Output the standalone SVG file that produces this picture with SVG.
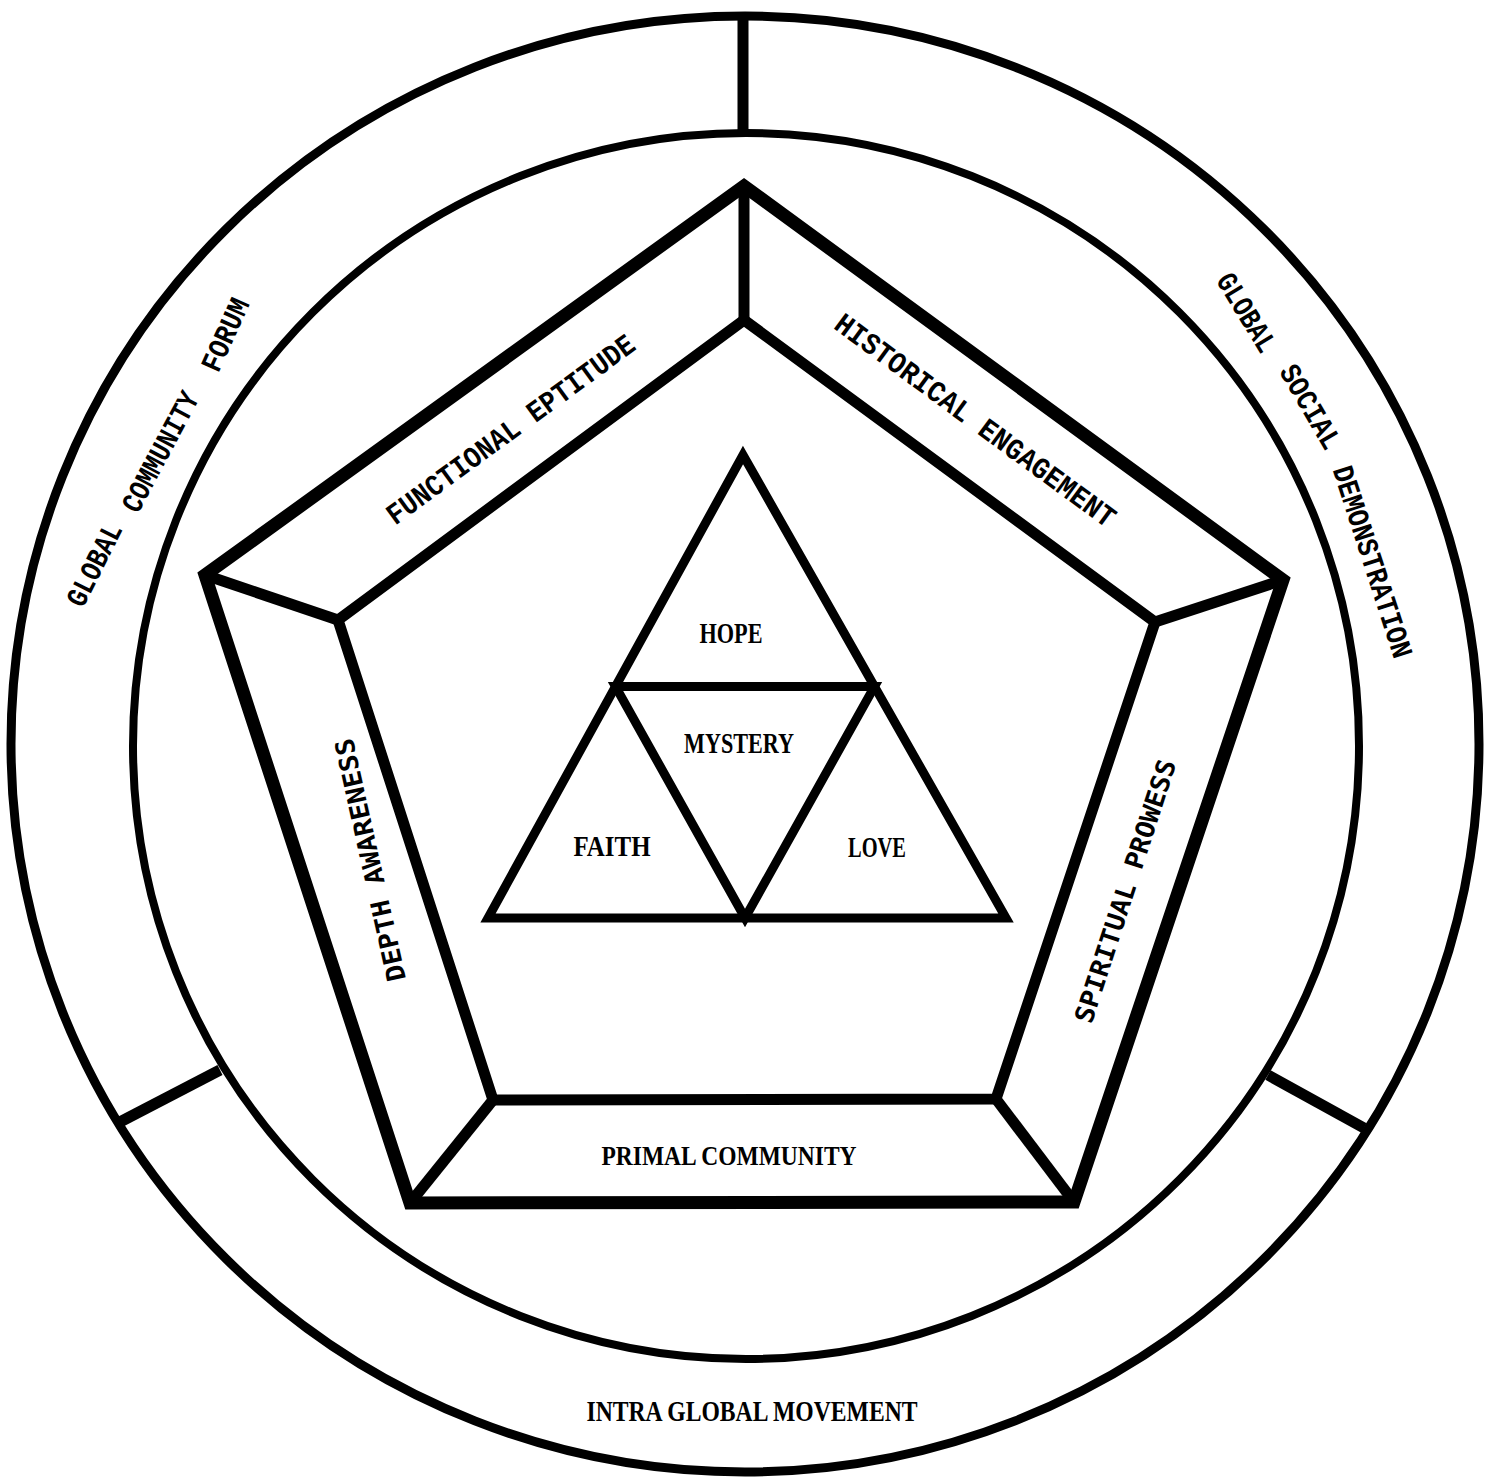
<svg xmlns="http://www.w3.org/2000/svg" width="1496" height="1478" viewBox="0 0 1496 1478">
<style>
  .ln{fill:none;stroke:#000;stroke-linejoin:miter;stroke-linecap:butt}
  .ring{stroke-width:9}
  .ringIn{stroke-width:8}
  .div{stroke-width:11}
  .pentOut{stroke-width:13}
  .pentIn{stroke-width:11}
  .spoke{stroke-width:11}
  .tri{stroke-width:9}
  .tw{font-family:"Liberation Mono","Courier New",monospace;font-weight:bold;font-size:30px;fill:#000}
  .gs{font-family:"DejaVu Sans Mono","Liberation Mono",monospace;font-weight:bold;font-size:26px;fill:#000}
  .sf{font-family:"Liberation Serif","Times New Roman",serif;font-weight:bold;font-size:30px;fill:#000}
</style>
<rect x="0" y="0" width="1496" height="1478" fill="#fff"/>

<g id="connectors">
  <line class="ln div" x1="743" y1="16" x2="743" y2="134"/>
  <line class="ln div" x1="118" y1="1123" x2="220" y2="1070"/>
  <line class="ln div" x1="1268" y1="1075" x2="1364" y2="1128"/>
  <line class="ln spoke" x1="744" y1="186" x2="744" y2="320"/>
  <line class="ln spoke" x1="205" y1="575" x2="338" y2="620"/>
  <line class="ln spoke" x1="1283" y1="580" x2="1155" y2="622"/>
  <line class="ln spoke" x1="410" y1="1203" x2="493" y2="1100"/>
  <line class="ln spoke" x1="1074" y1="1202" x2="996" y2="1099"/>
</g>

<g id="outer-ring">
  <ellipse class="ln ring" cx="745" cy="744" rx="734" ry="728"/>
  <circle class="ln ringIn" cx="746" cy="746" r="613"/>
</g>

<g id="global-community-forum">
  <text class="tw" transform="translate(95,565) rotate(-63.4)" x="0" y="9" text-anchor="middle" textLength="89" lengthAdjust="spacingAndGlyphs">GLOBAL</text>
  <text class="tw" transform="translate(161,452) rotate(-62)" x="0" y="9" text-anchor="middle" textLength="132" lengthAdjust="spacingAndGlyphs">COMMUNITY</text>
  <text class="tw" transform="translate(226,335) rotate(-65.7)" x="0" y="9" text-anchor="middle" textLength="77" lengthAdjust="spacingAndGlyphs">FORUM</text>
</g>

<g id="global-social-demonstration">
  <text class="tw" transform="translate(1246,313) rotate(58.5)" x="0" y="9" text-anchor="middle" textLength="87" lengthAdjust="spacingAndGlyphs">GLOBAL</text>
  <text class="tw" transform="translate(1310,407) rotate(59.7)" x="0" y="9" text-anchor="middle" textLength="93" lengthAdjust="spacingAndGlyphs">SOCIAL</text>
  <text class="tw" transform="translate(1372,562) rotate(72)" x="0" y="9" text-anchor="middle" textLength="200" lengthAdjust="spacingAndGlyphs">DEMONSTRATION</text>
</g>

<g id="intra-global-movement">
  <text class="sf" x="752" y="1421" text-anchor="middle" textLength="331" lengthAdjust="spacingAndGlyphs">INTRA GLOBAL MOVEMENT</text>
</g>

<g id="pentagon">
  <polygon class="ln pentOut" points="744,186 1283,580 1074,1202 410,1203 205,575"/>
  <polygon class="ln pentIn" points="744,320 1155,622 996,1099 493,1100 338,620"/>
</g>

<g id="functional-eptitude">
  <text class="tw" transform="translate(511,430) rotate(-36.2)" x="0" y="9" text-anchor="middle" textLength="300" lengthAdjust="spacingAndGlyphs">FUNCTIONAL EPTITUDE</text>
</g>
<g id="historical-engagement">
  <text class="tw" transform="translate(975,421) rotate(36.2)" x="0" y="9" text-anchor="middle" textLength="340" lengthAdjust="spacingAndGlyphs">HISTORICAL ENGAGEMENT</text>
</g>
<g id="depth-awareness">
  <text class="gs" transform="translate(370,860) rotate(-102.5)" x="0" y="9.5" text-anchor="middle" textLength="248" lengthAdjust="spacingAndGlyphs">DEPTH AWARENESS</text>
</g>
<g id="spiritual-prowess">
  <text class="gs" transform="translate(1125,891) rotate(-72)" x="0" y="9.5" text-anchor="middle" textLength="275" lengthAdjust="spacingAndGlyphs">SPIRITUAL PROWESS</text>
</g>
<g id="primal-community">
  <text class="sf" x="729" y="1165" text-anchor="middle" textLength="255" lengthAdjust="spacingAndGlyphs" style="font-size:28px">PRIMAL COMMUNITY</text>
</g>

<g id="triangle">
  <polygon class="ln tri" points="743,455 1006,918 488,918"/>
  <polygon class="ln tri" points="615.5,686.5 874.5,686.5 745,918"/>
</g>
<g id="hope"><text class="sf" x="731" y="643" text-anchor="middle" textLength="63" lengthAdjust="spacingAndGlyphs">HOPE</text></g>
<g id="mystery"><text class="sf" x="739" y="753" text-anchor="middle" textLength="110" lengthAdjust="spacingAndGlyphs">MYSTERY</text></g>
<g id="faith"><text class="sf" x="612" y="856" text-anchor="middle" textLength="77" lengthAdjust="spacingAndGlyphs">FAITH</text></g>
<g id="love"><text class="sf" x="877" y="857" text-anchor="middle" textLength="58" lengthAdjust="spacingAndGlyphs">LOVE</text></g>
</svg>
